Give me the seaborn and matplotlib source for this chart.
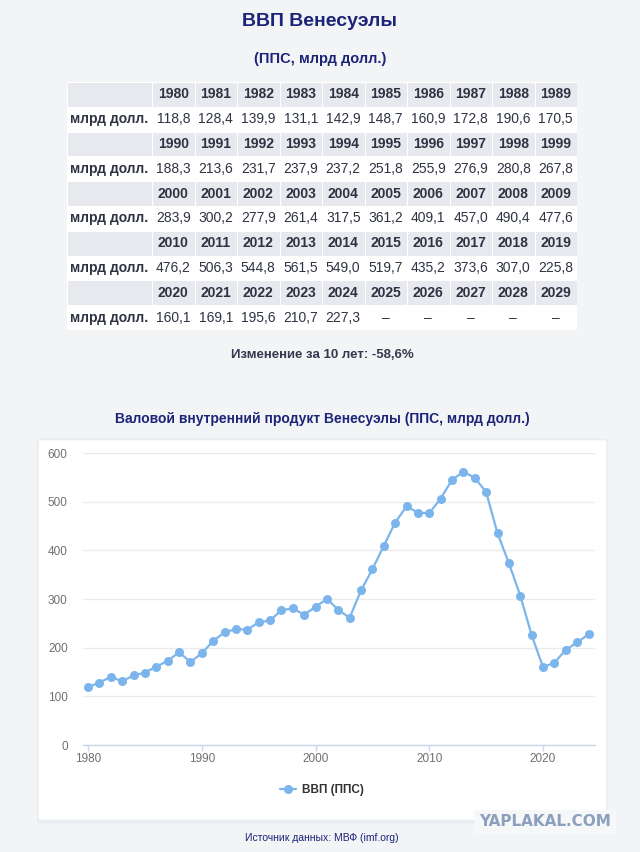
import numpy as np
import pandas as pd
import seaborn as sns
import matplotlib.pyplot as plt
from matplotlib.colors import ListedColormap
from matplotlib.patches import FancyBboxPatch

# Data (IMF, PPP, bn USD)
years = list(range(1980, 2025))
gdp = [118.8, 128.4, 139.9, 131.1, 142.9, 148.7, 160.9, 172.8, 190.6, 170.5,
       188.3, 213.6, 231.7, 237.9, 237.2, 251.8, 255.9, 276.9, 280.8, 267.8,
       283.9, 300.2, 277.9, 261.4, 317.5, 361.2, 409.1, 457.0, 490.4, 477.6,
       476.2, 506.3, 544.8, 561.5, 549.0, 519.7, 435.2, 373.6, 307.0, 225.8,
       160.1, 169.1, 195.6, 210.7, 227.3]
table_years = list(range(1980, 2030))
row_label = 'млрд долл.'
change_text = 'Изменение за 10 лет: -58,6%'
series_name = 'ВВП (ППС)'

W, H = 640, 852
BG = '#f3f4f6'
NAVY = '#1c2478'
TXT = '#2e3342'

sns.set_theme(style='white')
plt.rcParams['font.family'] = ['Liberation Sans', 'DejaVu Sans']

fig = plt.figure(figsize=(W / 100, H / 100), dpi=100, facecolor=BG)


def rect(x0, y0, x1, y1):
    # pixel box (top-left origin) -> figure fraction
    return [x0 / W, 1 - y1 / H, (x1 - x0) / W, (y1 - y0) / H]


fig.text(0.5, 1 - 22 / H, 'ВВП Венесуэлы', ha='center', va='center',
         fontsize=14, fontweight='bold', color=NAVY)
fig.text(0.5, 1 - 59 / H, '(ППС, млрд долл.)', ha='center', va='center',
         fontsize=10.5, fontweight='bold', color=NAVY)

# ---- table ----
n_blocks = len(table_years) // 10
rowtype = np.zeros((n_blocks * 2, 10))
rowtype[0::2, :] = 1
cmap = ListedColormap(['white', '#e8e9ee'])

tab_top, tab_bot = 82, 330
ax_lab = fig.add_axes(rect(67, tab_top, 152, tab_bot))
ax_tab = fig.add_axes(rect(152, tab_top, 577, tab_bot))
sns.heatmap(rowtype[:, :1], cmap=cmap, cbar=False, linewidths=0.6, linecolor='white',
            xticklabels=False, yticklabels=False, ax=ax_lab, vmin=0, vmax=1)
sns.heatmap(rowtype, cmap=cmap, cbar=False, linewidths=0.6, linecolor='white',
            xticklabels=False, yticklabels=False, ax=ax_tab, vmin=0, vmax=1)

for b in range(n_blocks):
    ax_lab.text(0.5, 2 * b + 1.5, row_label, ha='center', va='center',
                fontsize=10, fontweight='bold', color=TXT)
    for j in range(10):
        k = b * 10 + j
        ax_tab.text(j + 0.5, 2 * b + 0.5, str(table_years[k]), ha='center', va='center',
                    fontsize=10, fontweight='bold', color=TXT)
        val = f'{gdp[k]:.1f}'.replace('.', ',') if k < len(gdp) else '–'
        ax_tab.text(j + 0.5, 2 * b + 1.5, val, ha='center', va='center',
                    fontsize=10, color=TXT)

fig.text(322 / W, 1 - 355 / H, change_text, ha='center', va='center',
         fontsize=9.5, fontweight='bold', color='#333a4d')

# ---- chart ----
fig.text(322 / W, 1 - 419 / H, 'Валовой внутренний продукт Венесуэлы (ППС, млрд долл.)',
         ha='center', va='center', fontsize=10, fontweight='bold', color=NAVY)

x0, y0, x1, y1 = 40, 442, 605, 818
shadow = FancyBboxPatch((x0 / W, 1 - (y1 + 2) / H), (x1 - x0) / W, (y1 - y0 + 2) / H,
                        boxstyle='round,pad=0.004', transform=fig.transFigure,
                        facecolor='#e8ebf0', edgecolor='none', zorder=0)
card = FancyBboxPatch((x0 / W, 1 - y1 / H), (x1 - x0) / W, (y1 - y0) / H,
                      boxstyle='round,pad=0.002', transform=fig.transFigure,
                      facecolor='white', edgecolor='none', zorder=0)
fig.patches.extend([shadow, card])

ax = fig.add_axes(rect(83, 453, 595, 745))
ax.set_zorder(3)
ax.set_facecolor('none')
df = pd.DataFrame({'year': years, 'gdp': gdp})
sns.lineplot(data=df, x='year', y='gdp', ax=ax, color='#7cb5ec', lw=1.6,
             marker='o', markersize=6.5, markeredgewidth=0, label=series_name)

ax.set_xlim(1979.56, 2024.57)
ax.set_ylim(0, 600)
ax.set_yticks(range(0, 601, 100))
ax.set_xticks(range(1980, 2021, 10))
ax.yaxis.grid(True, color='#ebebeb', lw=1)
ax.xaxis.grid(False)
for s in ['top', 'right', 'left']:
    ax.spines[s].set_visible(False)
ax.spines['bottom'].set_color('#ccd6eb')
ax.spines['bottom'].set_linewidth(1)
ax.tick_params(axis='y', length=0, pad=11, labelsize=8.5, labelcolor='#707070')
ax.tick_params(axis='x', length=4, width=1, color='#ccd6eb', pad=2,
               labelsize=8.5, labelcolor='#707070', bottom=True)
ax.set_xlabel('')
ax.set_ylabel('')

leg = ax.legend(loc='center', bbox_to_anchor=(322 / W, 1 - 790 / H),
                bbox_transform=fig.transFigure, frameon=False, handlelength=1.3,
                handletextpad=0.5, prop={'weight': 'bold', 'size': 8.5})
for t in leg.get_texts():
    t.set_color('#333333')

fig.text(322 / W, 1 - 838 / H, 'Источник данных: МВФ (imf.org)', ha='center', va='center',
         fontsize=7.5, color=NAVY)
fig.text(545 / W, 1 - 822 / H, 'YAPLAKAL.COM', ha='center', va='center',
         fontsize=11, fontweight='bold', color='#8ba0bd', family='DejaVu Sans',
         bbox=dict(boxstyle='square,pad=0.3', facecolor='#f6f7f9', edgecolor='none'))

fig.savefig('out.png', dpi=100, facecolor=BG)
